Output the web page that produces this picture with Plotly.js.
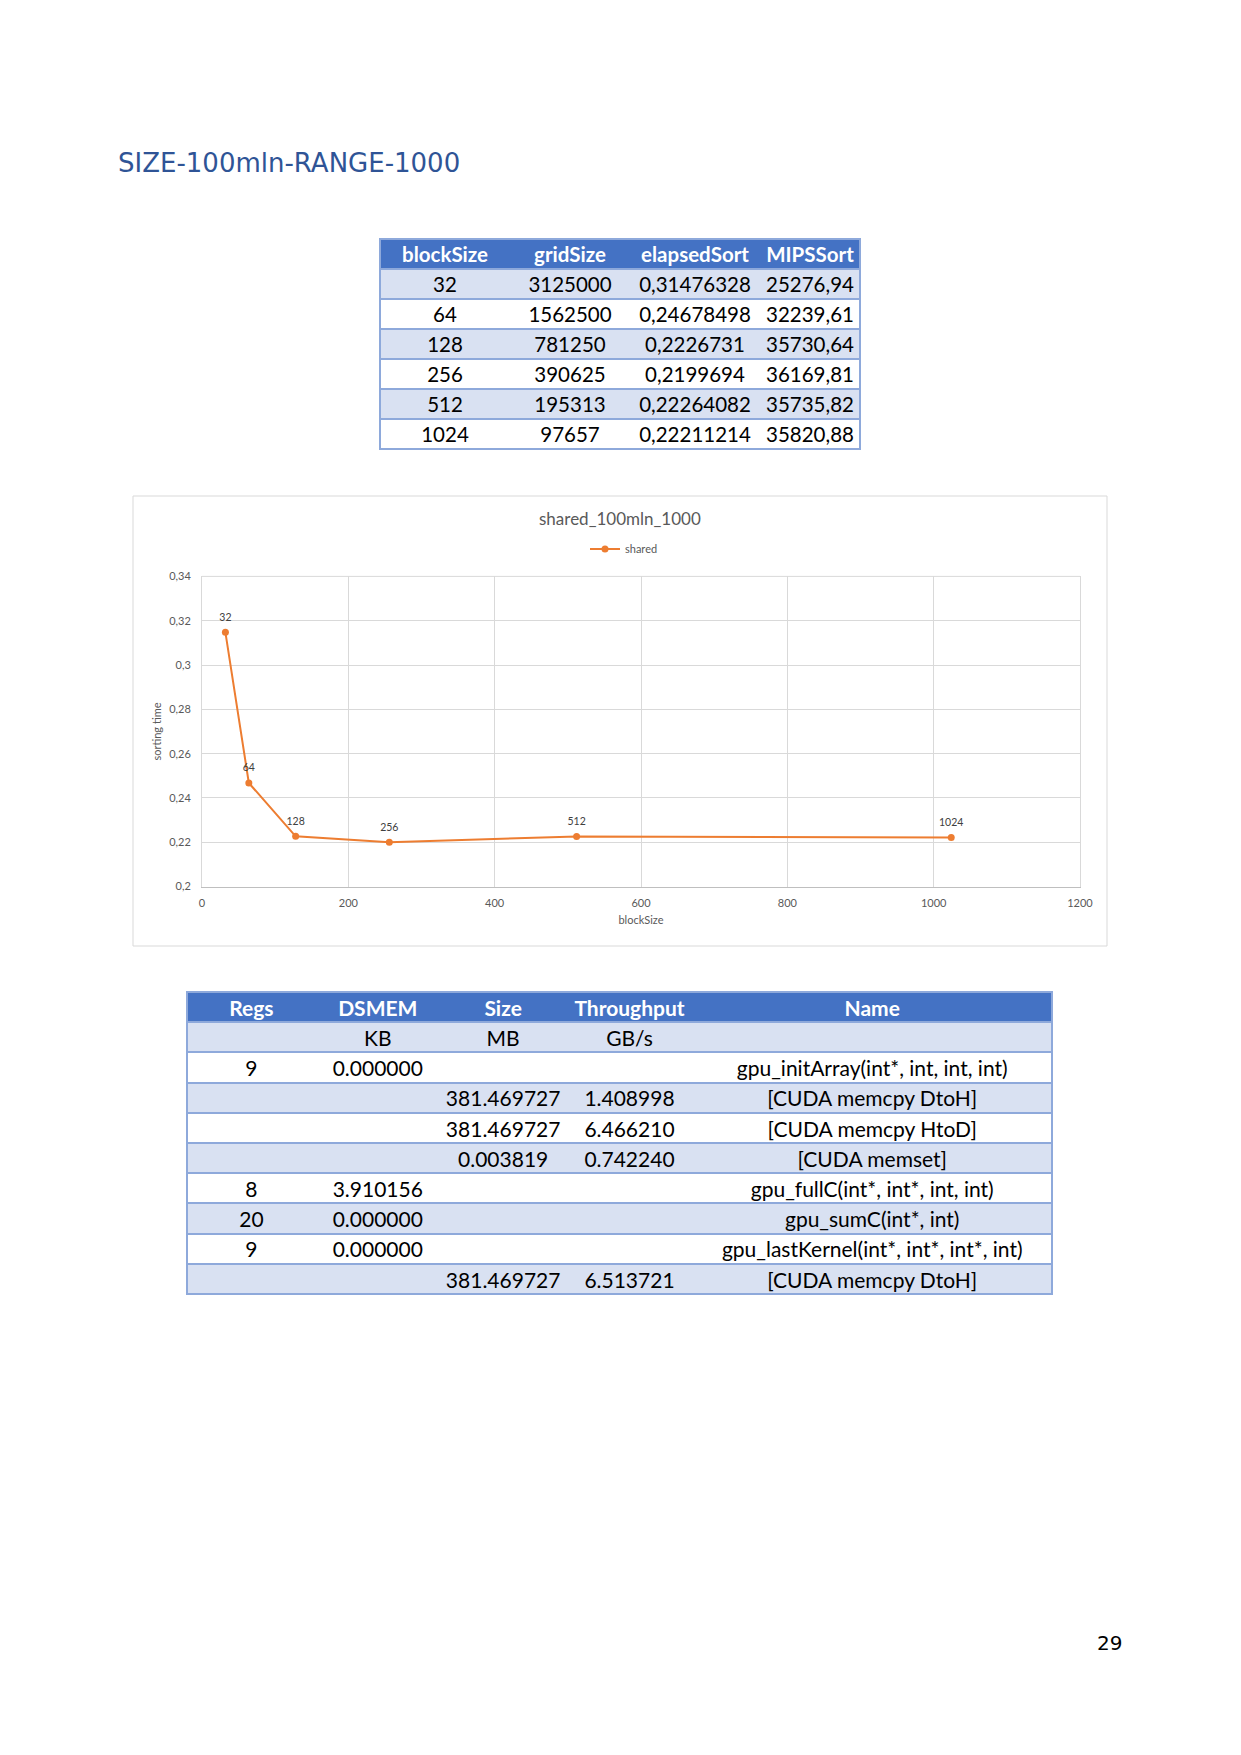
<!DOCTYPE html>
<html>
<head>
<meta charset="utf-8">
<script src="https://cdn.plot.ly/plotly-3.0.1.min.js"></script>
<style>
  html, body { margin: 0; padding: 0; background: #ffffff; }
  #page { width: 1241px; height: 1755px; }
</style>
</head>
<body>
<div id="page"></div>
<script>
// ---------------- data ----------------
const pageTitle = "SIZE-100mln-RANGE-1000";
const pageNumber = "29";

const sortHeaders = ["blockSize", "gridSize", "elapsedSort", "MIPSSort"];
const blockSize = [32, 64, 128, 256, 512, 1024];
const gridSize = [3125000, 1562500, 781250, 390625, 195313, 97657];
const elapsedSort = [0.31476328, 0.24678498, 0.2226731, 0.2199694, 0.22264082, 0.22211214];
const mipsSort = [25276.94, 32239.61, 35730.64, 36169.81, 35735.82, 35820.88];

const chartTitle = "shared_100mln_1000";
const seriesName = "shared";
const xAxisTitle = "blockSize";
const yAxisTitle = "sorting time";
const xTickVals = [0, 200, 400, 600, 800, 1000, 1200];
const xTickText = ["0", "200", "400", "600", "800", "1000", "1200"];
const yTickVals = [0.2, 0.22, 0.24, 0.26, 0.28, 0.3, 0.32, 0.34];
const yTickText = ["0,2", "0,22", "0,24", "0,26", "0,28", "0,3", "0,32", "0,34"];

const profHeaders = ["Regs", "DSMEM", "Size", "Throughput", "Name"];
const profUnits = ["", "KB", "MB", "GB/s", ""];
const profRegs = ["9", "", "", "", "8", "20", "9", ""];
const profDsmem = ["0.000000", "", "", "", "3.910156", "0.000000", "0.000000", ""];
const profSize = ["", "381.469727", "381.469727", "0.003819", "", "", "", "381.469727"];
const profThroughput = ["", "1.408998", "6.466210", "0.742240", "", "", "", "6.513721"];
const profName = [
  "gpu_initArray(int*, int, int, int)",
  "[CUDA memcpy DtoH]",
  "[CUDA memcpy HtoD]",
  "[CUDA memset]",
  "gpu_fullC(int*, int*, int, int)",
  "gpu_sumC(int*, int)",
  "gpu_lastKernel(int*, int*, int*, int)",
  "[CUDA memcpy DtoH]"
];

// ---------------- styling helpers ----------------
const W = 1241, H = 1755;
const px = v => v / W;
const py = v => 1 - v / H;
const HEAD_BLUE = "#4472C4";
const LIGHT = "#D9E1F2";
const BORDER = "#8EA9DB";
const ORANGE = "#ED7D31";
const GREY = "#595959";
const GRID = "#D9D9D9";
const tableFont = "Lato, Carlito, Calibri, sans-serif";
const comma = v => String(v).replace(".", ",");
const stripes = n => Array.from({length: n}, (_, i) => (i % 2 === 0 ? LIGHT : "#FFFFFF"));
const empties = n => Array.from({length: n}, () => "");

// ---------------- top table ----------------
const sortCols = [
  blockSize.map(String),
  gridSize.map(String),
  elapsedSort.map(comma),
  mipsSort.map(comma)
];
const sortDomain = {x: [px(380), px(860)], y: [py(454), py(238.5)]};
const sortRowH = 30;

// background (single column => only horizontal row borders)
const sortBg = {
  type: "table",
  domain: sortDomain,
  columnwidth: [1],
  header: {values: [""], height: sortRowH, fill: {color: HEAD_BLUE},
           line: {color: BORDER, width: 2}},
  cells: {values: [empties(blockSize.length)], height: sortRowH,
          fill: {color: [stripes(blockSize.length)]},
          line: {color: BORDER, width: 2}},
  hoverinfo: "skip"
};
const sortTable = {
  type: "table",
  domain: sortDomain,
  columnwidth: [130, 120, 130, 100],
  header: {values: sortHeaders, height: sortRowH, align: "center",
           fill: {color: "rgba(0,0,0,0)"}, line: {width: 0, color: "rgba(0,0,0,0)"},
           font: {family: tableFont, size: 20.5, color: "#FFFFFF", weight: 700}},
  cells: {values: sortCols, height: sortRowH, align: "center",
          fill: {color: "rgba(0,0,0,0)"}, line: {width: 0, color: "rgba(0,0,0,0)"},
          font: {family: tableFont, size: 20.5, color: "#000000"}},
  hoverinfo: "skip"
};

// ---------------- bottom table ----------------
const profCols = [
  [profUnits[0]].concat(profRegs),
  [profUnits[1]].concat(profDsmem),
  [profUnits[2]].concat(profSize),
  [profUnits[3]].concat(profThroughput),
  [profUnits[4]].concat(profName)
];
const nProf = profCols[0].length;
const profDomain = {x: [px(187), px(1053)], y: [py(1300), py(992)]};
const profRowH = 30.2;

const profBg = {
  type: "table",
  domain: profDomain,
  columnwidth: [1],
  header: {values: [""], height: profRowH, fill: {color: HEAD_BLUE},
           line: {color: BORDER, width: 2}},
  cells: {values: [empties(nProf)], height: profRowH,
          fill: {color: [stripes(nProf)]},
          line: {color: BORDER, width: 2}},
  hoverinfo: "skip"
};
const profTable = {
  type: "table",
  domain: profDomain,
  columnwidth: [129, 124, 127, 126, 360],
  header: {values: profHeaders, height: profRowH, align: "center",
           fill: {color: "rgba(0,0,0,0)"}, line: {width: 0, color: "rgba(0,0,0,0)"},
           font: {family: tableFont, size: 21, color: "#FFFFFF", weight: 700}},
  cells: {values: profCols, height: profRowH, align: "center",
          fill: {color: "rgba(0,0,0,0)"}, line: {width: 0, color: "rgba(0,0,0,0)"},
          font: {family: tableFont, size: 21, color: "#000000"}},
  hoverinfo: "skip"
};

// ---------------- chart ----------------
const line = {
  type: "scatter",
  mode: "lines+markers",
  name: seriesName,
  x: blockSize,
  y: elapsedSort,
  line: {color: ORANGE, width: 2},
  marker: {color: ORANGE, size: 7},
  xaxis: "x", yaxis: "y",
  hoverinfo: "skip"
};
const labels = {
  type: "scatter",
  mode: "markers+text",
  showlegend: false,
  x: blockSize,
  y: elapsedSort,
  text: blockSize.map(String),
  textposition: "top center",
  textfont: {family: tableFont, size: 10.5, color: "#404040"},
  marker: {size: 13, color: "rgba(0,0,0,0)"},
  xaxis: "x", yaxis: "y",
  hoverinfo: "skip"
};

const axisFont = {family: tableFont, size: 11, color: GREY};

const layout = {
  width: W, height: H,
  margin: {l: 0, r: 0, t: 0, b: 0, pad: 0},
  paper_bgcolor: "#FFFFFF",
  plot_bgcolor: "#FFFFFF",
  font: {family: tableFont, color: GREY},
  showlegend: true,
  legend: {
    orientation: "h", x: px(624), xanchor: "center", y: py(549), yanchor: "middle",
    font: {family: tableFont, size: 11, color: GREY}, bgcolor: "rgba(0,0,0,0)",
    itemwidth: 30
  },
  xaxis: {
    domain: [px(202), px(1080)],
    range: [0, 1200],
    tickmode: "array", tickvals: xTickVals, ticktext: xTickText,
    showgrid: true, gridcolor: GRID, gridwidth: 1,
    showline: true, linecolor: "#BFBFBF", linewidth: 1,
    zeroline: false, ticks: "",
    tickfont: axisFont,
    ticklabelstandoff: 6,
    title: {text: xAxisTitle, font: axisFont, standoff: 8},
    automargin: false, fixedrange: true
  },
  yaxis: {
    domain: [py(886.6), py(576.4)],
    range: [0.2, 0.34],
    tickmode: "array", tickvals: yTickVals, ticktext: yTickText,
    showgrid: true, gridcolor: GRID, gridwidth: 1,
    showline: true, linecolor: GRID, linewidth: 1, mirror: true,
    zeroline: false, ticks: "",
    tickfont: axisFont,
    ticklabelstandoff: 8,
    title: {text: yAxisTitle, font: axisFont, standoff: 5},
    automargin: false, fixedrange: true
  },
  shapes: [
    {type: "rect", xref: "paper", yref: "paper",
     x0: px(133), x1: px(1107), y0: py(946), y1: py(496),
     line: {color: GRID, width: 1}, fillcolor: "rgba(0,0,0,0)", layer: "below"},
    {type: "line", xref: "x domain", yref: "y domain",
     x0: 0, x1: 1, y0: 1, y1: 1,
     line: {color: GRID, width: 1}, layer: "below"}
  ],
  annotations: [
    {text: pageTitle, xref: "paper", yref: "paper", x: px(116), y: py(163),
     xanchor: "left", yanchor: "middle", showarrow: false,
     font: {family: "DejaVu Sans, Verdana, sans-serif", size: 26, color: "#2F5496"}},
    {text: chartTitle, xref: "paper", yref: "paper", x: px(620), y: py(518),
     xanchor: "center", yanchor: "middle", showarrow: false,
     font: {family: tableFont, size: 17, color: GREY}},
    {text: pageNumber, xref: "paper", yref: "paper", x: px(1109), y: py(1643),
     xanchor: "center", yanchor: "middle", showarrow: false,
     font: {family: "DejaVu Sans, Verdana, sans-serif", size: 20, color: "#000000"}}
  ]
};

Plotly.newPlot("page", [sortBg, sortTable, profBg, profTable, line, labels], layout,
  {displayModeBar: false, staticPlot: true, responsive: false});
</script>
</body>
</html>
